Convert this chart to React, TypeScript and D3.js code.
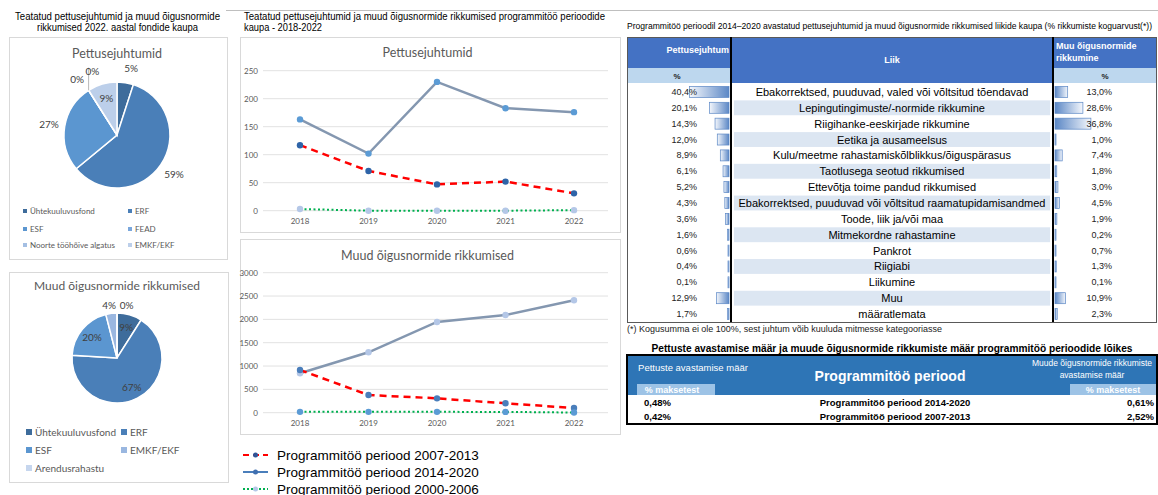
import React from "react";
import * as d3 from "d3";

// ---------- data ----------
const years = ["2018", "2019", "2020", "2021", "2022"];
const periodNames = [
  "Programmitöö periood 2007-2013",
  "Programmitöö periood 2014-2020",
  "Programmitöö periood 2000-2006",
];
// reported fraud cases per year
const fraud0713 = [117, 71, 47, 52, 31];
const fraud1420 = [163, 102, 230, 183, 176];
const fraud0006 = [3, 0, 0, 0, 1];
const fraudTicks = [0, 50, 100, 150, 200, 250];
// other irregularities per year
const irreg0713 = [915, 379, 308, 201, 101];
const irreg1420 = [844, 1294, 1944, 2094, 2409];
const irreg0006 = [18, 18, 18, 17, 4];
const irregTicks = [0, 500, 1000, 1500, 2000, 2500, 3000];

// 2022 by fund (%)
const fraudFunds = ["Ühtekuuluvusfond", "ERF", "ESF", "FEAD", "Noorte tööhõive algatus", "EMKF/EKF"];
const fraudFundShares = [5, 59, 27, 0, 0, 9];
const irregFunds = ["Ühtekuuluvusfond", "ERF", "ESF", "EMKF/EKF", "Arendusrahastu"];
const irregFundShares = [9, 67, 20, 4, 0];

// 2014–2020 by type (% of all cases)
const violationTypes = [
  "Ebakorrektsed, puuduvad, valed või võltsitud tõendavad",
  "Lepingutingimuste/-normide rikkumine",
  "Riigihanke-eeskirjade rikkumine",
  "Eetika ja ausameelsus",
  "Kulu/meetme rahastamiskõlblikkus/õiguspärasus",
  "Taotlusega seotud rikkumised",
  "Ettevõtja toime pandud rikkumised",
  "Ebakorrektsed, puuduvad või võltsitud raamatupidamisandmed",
  "Toode, liik ja/või maa",
  "Mitmekordne rahastamine",
  "Pankrot",
  "Riigiabi",
  "Liikumine",
  "Muu",
  "määratlemata",
];
const fraudTypePct = [40.4, 20.1, 14.3, 12.0, 8.9, 6.1, 5.2, 4.3, 3.6, 1.6, 0.6, 0.4, 0.1, 12.9, 1.7];
const irregTypePct = [13.0, 28.6, 36.8, 1.0, 7.4, 1.8, 3.0, 4.5, 1.9, 0.2, 0.7, 1.3, 0.1, 10.9, 2.3];

// detection rates by programming period (% of payments)
const ratePeriods = ["Programmitöö periood 2014-2020", "Programmitöö periood 2007-2013"];
const fraudRate = [0.48, 0.42];
const irregRate = [0.61, 2.52];

// ---------- styling ----------
const ARIAL = "'Liberation Sans', Arial, Helvetica, sans-serif";
const CAL = "Lato, Carlito, Calibri, sans-serif";
const GRAY_TXT = "#595959";
const fraudFundColors = ["#3e6c9b", "#4a7fb8", "#5b96d0", "#7aa7dc", "#a4bfe3", "#bccfea"];
const irregFundColors = ["#3e6c9b", "#4a7fb8", "#5b96d0", "#9ab7e0", "#c6d6ee"];

const pct1 = (v: number) => d3.format(".1f")(v).replace(".", ",") + "%";
const pct2 = (v: number) => d3.format(".2f")(v).replace(".", ",") + "%";

// ---------- pie ----------
function PieChart(props: any) {
  const { cx, cy, r, values, colors, inside, nudge, outFactor, leader, fontSize } = props;
  const arcs = d3.pie<number>().sort(null).value((d) => d)(values);
  const arc = d3.arc<d3.PieArcDatum<number>>().innerRadius(0).outerRadius(r);
  return (
    <g>
      {arcs.map((a, i) => (
        <path
          key={"s" + i}
          d={arc(a) || ""}
          transform={`translate(${cx},${cy})`}
          fill={colors[i]}
          stroke="#fff"
          strokeWidth={1.5}
        />
      ))}
      {arcs.map((a, i) => {
        const mid = (a.startAngle + a.endAngle) / 2;
        const ang = mid + (nudge[i] || 0);
        const rr = inside[i] ? r * 0.72 : r * outFactor;
        const lx = cx + Math.sin(ang) * rr;
        const ly = cy - Math.cos(ang) * rr;
        const ex = cx + Math.sin(mid) * r;
        const ey = cy - Math.cos(mid) * r;
        return (
          <g key={"l" + i}>
            {leader[i] ? (
              <line x1={ex} y1={ey} x2={ex} y2={ly - 3} stroke="#a6a6a6" strokeWidth={0.8} />
            ) : null}
            <text
              x={lx}
              y={ly}
              textAnchor="middle"
              dominantBaseline="central"
              fontFamily={CAL}
              fontSize={fontSize}
              fill="#404040"
            >
              {d3.format(".0f")(values[i]) + "%"}
            </text>
          </g>
        );
      })}
    </g>
  );
}

function Legend(props: any) {
  const { names, colors, cols, rows, size, fontSize } = props;
  return (
    <g fontFamily={CAL} fontSize={fontSize} fill={GRAY_TXT}>
      {names.map((n: string, i: number) => {
        const x = cols[i % 2];
        const y = rows[Math.floor(i / 2)];
        return (
          <g key={n}>
            <rect x={x} y={y - size / 2} width={size} height={size} fill={colors[i]} />
            <text x={x + size + 3} y={y} dominantBaseline="central">
              {n}
            </text>
          </g>
        );
      })}
    </g>
  );
}

// ---------- line chart ----------
function LineChart(props: any) {
  const { box, title, titleY, ticks, yTop, yBottom, series, labelY } = props;
  const x = d3.scalePoint<string>().domain(years).range([300, 574]);
  const y = d3.scaleLinear().domain([0, ticks[ticks.length - 1]]).range([yBottom, yTop]);
  const line = d3
    .line<number>()
    .x((_, i) => x(years[i]) as number)
    .y((d) => y(d));
  return (
    <g>
      <rect x={box.x} y={box.y} width={box.w} height={box.h} fill="#fff" stroke="#d9d9d9" />
      <text x={box.x + box.w / 2 - 3} y={titleY} textAnchor="middle" dominantBaseline="central" fontFamily={CAL} fontSize={12.5} fill={GRAY_TXT}>
        {title}
      </text>
      {ticks.map((t: number) => (
        <g key={t}>
          <line x1={263} x2={608} y1={y(t)} y2={y(t)} stroke="#d9d9d9" strokeWidth={0.8} />
          <text x={258} y={y(t)} textAnchor="end" dominantBaseline="central" fontFamily={CAL} fontSize={8} fill={GRAY_TXT}>
            {t}
          </text>
        </g>
      ))}
      {years.map((yr) => (
        <text key={yr} x={x(yr)} y={labelY} textAnchor="middle" dominantBaseline="central" fontFamily={CAL} fontSize={8} fill={GRAY_TXT}>
          {yr}
        </text>
      ))}
      {series.map((s: any, k: number) => (
        <g key={k}>
          <path d={line(s.values) || ""} fill="none" stroke={s.stroke} strokeWidth={s.width} strokeDasharray={s.dash} strokeLinecap={s.cap} />
          {s.values.map((v: number, i: number) => (
            <circle key={i} cx={x(years[i])} cy={y(v)} r={3.2} fill={s.marker} />
          ))}
        </g>
      ))}
    </g>
  );
}

// ---------- type table ----------
function TypeTable() {
  const x0 = 627, x1 = 1157, cL = 731, cR = 1053, top = 37, hdr = 68, sub = 83, bottom = 322;
  const band = d3.scaleBand<string>().domain(violationTypes).range([sub + 1, bottom]);
  const bar = d3.scaleLinear().domain([0, 41]).range([0, 40]);
  const bh = band.bandwidth();
  return (
    <g fontFamily={ARIAL}>
      <rect x={x0} y={top} width={x1 - x0} height={hdr - top} fill="#4472c4" />
      <rect x={cL} y={hdr} width={cR - cL} height={sub - hdr} fill="#4472c4" />
      <rect x={x0} y={hdr} width={cL - x0} height={sub - hdr} fill="#bdd7ee" />
      <rect x={cR} y={hdr} width={x1 - cR} height={sub - hdr} fill="#bdd7ee" />
      <text x={729} y={50} textAnchor="end" dominantBaseline="central" fontSize={9} fontWeight="bold" fill="#fff">Pettusejuhtum</text>
      <text x={892} y={60} textAnchor="middle" dominantBaseline="central" fontSize={9} fontWeight="bold" fill="#fff">Liik</text>
      <text x={1056} y={46} dominantBaseline="central" fontSize={9} fontWeight="bold" fill="#fff">Muu õigusnormide</text>
      <text x={1056} y={58} dominantBaseline="central" fontSize={9} fontWeight="bold" fill="#fff">rikkumine</text>
      <text x={677} y={76} textAnchor="middle" dominantBaseline="central" fontSize={8} fontWeight="bold" fill="#222">%</text>
      <text x={1105} y={76} textAnchor="middle" dominantBaseline="central" fontSize={8} fontWeight="bold" fill="#222">%</text>
      {violationTypes.map((t, i) => {
        const yb = band(t) as number;
        const yc = yb + bh / 2;
        const lw = Math.max(1, bar(fraudTypePct[i]));
        const rw = Math.max(1, bar(irregTypePct[i]));
        return (
          <g key={t}>
            {i % 2 === 1 ? <rect x={cL + 3} y={yb + 0.5} width={cR - cL - 6} height={bh - 1} fill="#dce6f2" /> : null}
            <rect x={cL - 2 - lw} y={yc - 5.5} width={lw} height={11} fill="url(#barToLeft)" stroke="#5b87c5" strokeWidth={0.7} />
            <rect x={cR + 2} y={yc - 5.5} width={rw} height={11} fill="url(#barToRight)" stroke="#5b87c5" strokeWidth={0.7} />
            <text x={697} y={yc} textAnchor="end" dominantBaseline="central" fontSize={9} fill="#222">{pct1(fraudTypePct[i])}</text>
            <text x={892} y={yc} textAnchor="middle" dominantBaseline="central" fontSize={11} fill="#000">{t}</text>
            <text x={1112} y={yc} textAnchor="end" dominantBaseline="central" fontSize={9} fill="#222">{pct1(irregTypePct[i])}</text>
          </g>
        );
      })}
      <rect x={x0 + 0.5} y={top + 0.5} width={x1 - x0 - 1} height={bottom - top} fill="none" stroke="#595959" strokeWidth={1} />
      <line x1={cL} x2={cL} y1={top} y2={bottom} stroke="#000" strokeWidth={2} />
      <line x1={cR} x2={cR} y1={top} y2={bottom} stroke="#000" strokeWidth={2} />
      <text x={627} y={329} dominantBaseline="central" fontSize={9} fill="#222" textLength={315} lengthAdjust="spacingAndGlyphs">
        (*) Kogusumma ei ole 100%, sest juhtum võib kuuluda mitmesse kategooriasse
      </text>
    </g>
  );
}

// ---------- rate table ----------
function RateTable() {
  const x0 = 627, x1 = 1157, top = 355, s0 = 384, s1 = 395, bottom = 424;
  const rows = d3.scaleBand<string>().domain(ratePeriods).range([s1, bottom]);
  return (
    <g fontFamily={ARIAL}>
      <text x={892} y={348} textAnchor="middle" dominantBaseline="central" fontSize={10.5} fontWeight="bold" fill="#000" textLength={481} lengthAdjust="spacingAndGlyphs">
        Pettuste avastamise määr ja muude õigusnormide rikkumiste määr programmitöö perioodide lõikes
      </text>
      <rect x={x0} y={top} width={x1 - x0} height={s1 - top} fill="#2e75b6" />
      <rect x={637} y={s0} width={78} height={s1 - s0} fill="#9dc3e6" />
      <rect x={1070} y={s0} width={x1 - 1070} height={s1 - s0} fill="#9dc3e6" />
      <text x={693} y={367} textAnchor="middle" dominantBaseline="central" fontSize={9.5} fill="#fff">Pettuste avastamise määr</text>
      <text x={890} y={376} textAnchor="middle" dominantBaseline="central" fontSize={14} fontWeight="bold" fill="#fff">Programmitöö periood</text>
      <text x={1092} y={363} textAnchor="middle" dominantBaseline="central" fontSize={8.5} fill="#fff">Muude õigusnormide rikkumiste</text>
      <text x={1092} y={375} textAnchor="middle" dominantBaseline="central" fontSize={8.5} fill="#fff">avastamise määr</text>
      <text x={672} y={389.5} textAnchor="middle" dominantBaseline="central" fontSize={9} fontWeight="bold" fill="#fff">% maksetest</text>
      <text x={1113} y={389.5} textAnchor="middle" dominantBaseline="central" fontSize={9} fontWeight="bold" fill="#fff">% maksetest</text>
      {ratePeriods.map((p, i) => {
        const yc = (rows(p) as number) + rows.bandwidth() / 2;
        return (
          <g key={p} fontWeight="bold" fontSize={9.5} fill="#000">
            <text x={644} y={yc} dominantBaseline="central">{pct2(fraudRate[i])}</text>
            <text x={895} y={yc} textAnchor="middle" dominantBaseline="central">{p}</text>
            <text x={1154} y={yc} textAnchor="end" dominantBaseline="central">{pct2(irregRate[i])}</text>
          </g>
        );
      })}
      <rect x={x0} y={top} width={x1 - x0} height={bottom - top} fill="none" stroke="#000" strokeWidth={2} />
    </g>
  );
}

export default function App() {
  const fraudSeries = [
    { values: fraud1420, stroke: "#8497b0", width: 2.5, dash: "none", marker: "#5b9bd5", cap: "round" },
    { values: fraud0713, stroke: "#ff0000", width: 2.5, dash: "7 5", marker: "#2e64a8", cap: "butt" },
    { values: fraud0006, stroke: "#00b050", width: 2, dash: "2 2.5", marker: "#b4c7e7", cap: "butt" },
  ];
  const irregSeries = [
    { values: irreg1420, stroke: "#8497b0", width: 2.5, dash: "none", marker: "#b4c7e7", cap: "round" },
    { values: irreg0713, stroke: "#ff0000", width: 2.5, dash: "7 5", marker: "#4a7ebb", cap: "butt" },
    { values: irreg0006, stroke: "#00b050", width: 2, dash: "2 2.5", marker: "#5b9bd5", cap: "butt" },
  ];
  const legendStyles = [
    { stroke: "#ff0000", dash: "6 4", marker: "#2f5597" },
    { stroke: "#4a7ebb", dash: "none", marker: "#3f6fb0" },
    { stroke: "#00b050", dash: "2 2", marker: "#b4c7e7" },
  ];
  const legendRows = [455, 472, 489];

  return (
    <svg width={1158} height={495} style={{ position: "absolute", left: 0, top: 0, background: "#fff" }}>
      <defs>
        <linearGradient id="barToRight" x1="0" x2="1" y1="0" y2="0">
          <stop offset="0" stopColor="#5b87c5" />
          <stop offset="1" stopColor="#f4f7fc" />
        </linearGradient>
        <linearGradient id="barToLeft" x1="1" x2="0" y1="0" y2="0">
          <stop offset="0" stopColor="#5b87c5" />
          <stop offset="1" stopColor="#f4f7fc" />
        </linearGradient>
      </defs>
      <rect width={1158} height={495} fill="#fff" />
      <line x1={226} x2={1158} y1={10.5} y2={10.5} stroke="#bfbfbf" />

      {/* left column: fund pies */}
      <g fontFamily={ARIAL} fontSize={10} fill="#000">
        <text x={117.5} y={16} textAnchor="middle" dominantBaseline="central" textLength={205} lengthAdjust="spacingAndGlyphs">
          Teatatud pettusejuhtumid ja muud õigusnormide
        </text>
        <text x={117.5} y={27} textAnchor="middle" dominantBaseline="central" textLength={161} lengthAdjust="spacingAndGlyphs">
          rikkumised 2022. aastal fondide kaupa
        </text>
      </g>
      <rect x={9.5} y={37.5} width={218} height={222} fill="none" stroke="#d9d9d9" />
      <text x={117} y={53} textAnchor="middle" dominantBaseline="central" fontFamily={CAL} fontSize={12.5} fill={GRAY_TXT}>Pettusejuhtumid</text>
      <PieChart
        cx={117}
        cy={135}
        r={53}
        values={fraudFundShares}
        colors={fraudFundColors}
        inside={[false, false, false, false, false, true]}
        nudge={[0.05, 0, 0, -0.05, 0.2, 0]}
        outFactor={1.3}
        leader={[false, false, false, false, true, false]}
        fontSize={10}
      />
      <Legend names={fraudFunds} colors={fraudFundColors} cols={[23, 128]} rows={[211, 229, 245]} size={4} fontSize={8} />

      <rect x={9.5} y={272.5} width={219} height={210} fill="none" stroke="#d9d9d9" />
      <text x={117} y={285} textAnchor="middle" dominantBaseline="central" fontFamily={CAL} fontSize={12} fill={GRAY_TXT}>Muud õigusnormide rikkumised</text>
      <PieChart
        cx={117}
        cy={358}
        r={45}
        values={irregFundShares}
        colors={irregFundColors}
        inside={[true, true, true, false, false]}
        nudge={[0, 0, 0, -0.02, 0.18]}
        outFactor={1.19}
        leader={[false, false, false, false, false]}
        fontSize={10}
      />
      <Legend names={irregFunds} colors={irregFundColors} cols={[26, 121]} rows={[432, 450, 468]} size={6} fontSize={10} />

      {/* middle column: line charts */}
      <g fontFamily={ARIAL} fontSize={10} fill="#000">
        <text x={244} y={16} dominantBaseline="central" textLength={361} lengthAdjust="spacingAndGlyphs">
          Teatatud pettusejuhtumid ja muud õigusnormide rikkumised programmitöö perioodide
        </text>
        <text x={244} y={27} dominantBaseline="central" textLength={78} lengthAdjust="spacingAndGlyphs">
          kaupa - 2018-2022
        </text>
      </g>
      <LineChart
        box={{ x: 240.5, y: 37.5, w: 380, h: 195 }}
        title="Pettusejuhtumid"
        titleY={52}
        ticks={fraudTicks}
        yTop={70.7}
        yBottom={210.7}
        labelY={221}
        series={fraudSeries}
      />
      <LineChart
        box={{ x: 240.5, y: 239.5, w: 380, h: 195 }}
        title="Muud õigusnormide rikkumised"
        titleY={255}
        ticks={irregTicks}
        yTop={272.7}
        yBottom={412.7}
        labelY={423}
        series={irregSeries}
      />
      <g fontFamily={ARIAL} fontSize={13.5} fill="#000">
        {periodNames.map((n, i) => (
          <g key={n}>
            <line x1={243} x2={268} y1={legendRows[i]} y2={legendRows[i]} stroke={legendStyles[i].stroke} strokeWidth={2} strokeDasharray={legendStyles[i].dash} />
            <circle cx={255.5} cy={legendRows[i]} r={2.5} fill={legendStyles[i].marker} />
            <text x={277} y={legendRows[i]} dominantBaseline="central">{n}</text>
          </g>
        ))}
      </g>

      {/* right column: tables */}
      <text x={627} y={26} dominantBaseline="central" fontFamily={ARIAL} fontSize={8.5} fill="#000" textLength={525} lengthAdjust="spacingAndGlyphs">
        Programmitöö perioodil 2014–2020 avastatud pettusejuhtumid ja muud õigusnormide rikkumised liikide kaupa (% rikkumiste koguarvust(*))
      </text>
      <TypeTable />
      <RateTable />
    </svg>
  );
}
